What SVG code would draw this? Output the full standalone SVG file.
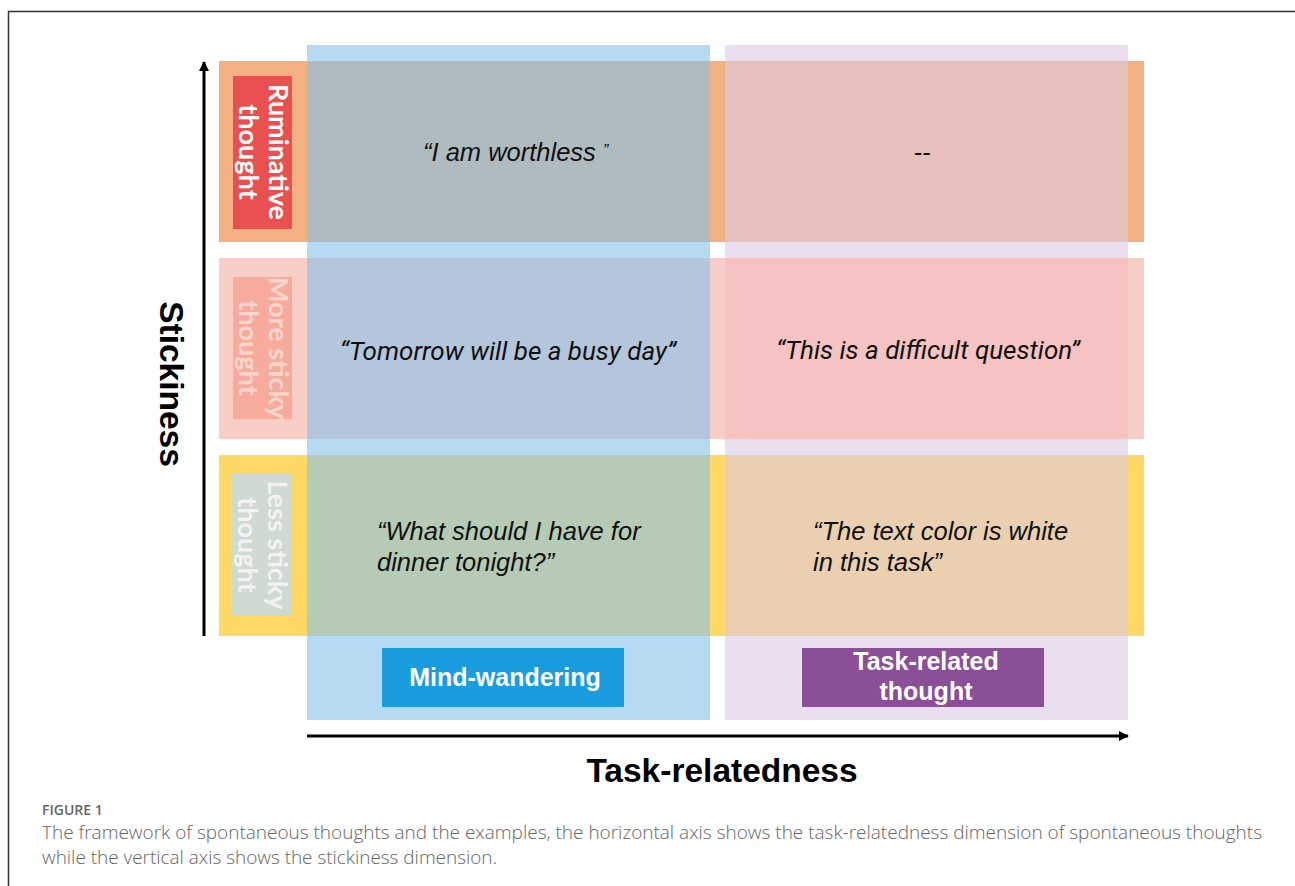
<svg xmlns="http://www.w3.org/2000/svg" width="1295" height="886" viewBox="0 0 1295 886">
  <defs>
    <style>
      .q { font-family: "Liberation Sans", Arial, sans-serif; font-style: italic; font-size: 25.5px; fill: #111; }
      .qr { font-family: Roboto, "Liberation Sans", sans-serif; font-style: italic; font-size: 26px; fill: #111; }
      .lab { font-family: Lato, "Liberation Sans", sans-serif; font-weight: bold; font-size: 27px; text-anchor: middle; }
      .axis { font-family: "Liberation Sans", Arial, sans-serif; font-weight: bold; font-size: 33.5px; fill: #000; text-anchor: middle; }
      .btn { font-family: "Liberation Sans", Arial, sans-serif; font-weight: bold; font-size: 25px; fill: #fff; text-anchor: middle; }
      .cap { font-family: "Open Sans", "Liberation Sans", sans-serif; fill: #666; }
    </style>
    <marker id="ah" viewBox="0 0 10 10" refX="9" refY="5" markerWidth="10" markerHeight="10" markerUnits="userSpaceOnUse" orient="auto">
      <path d="M0,0 L10,5 L0,10 z" fill="#000"/>
    </marker>
  </defs>

  <rect x="0" y="0" width="1295" height="886" fill="#fff"/>
  <rect x="8.5" y="11.5" width="1400" height="1000" fill="none" stroke="#333" stroke-width="1.5"/>

  <!-- row bands -->
  <g id="rows">
    <rect id="row-ruminative" x="219" y="61" width="925" height="181" fill="#F3B183"/>
    <rect id="row-more" x="219" y="258" width="925" height="181" fill="#F9CEC6"/>
    <rect id="row-less" x="219" y="455" width="925" height="181" fill="#FFD966"/>
  </g>

  <!-- column overlays -->
  <g id="columns">
    <rect id="col-mind" x="307" y="45" width="403" height="675" fill="#84C1E9" fill-opacity="0.6"/>
    <rect id="col-task" x="725" y="45" width="403" height="675" fill="#DCCAE3" fill-opacity="0.6"/>
    <rect id="cell-more-task" x="725" y="258" width="403" height="181" fill="#F4C3C2"/>
  </g>

  <!-- row labels -->
  <g id="label-ruminative">
    <rect x="233" y="76" width="59" height="153" fill="#E95050"/>
    <g transform="translate(262,152) rotate(90)">
      <text class="lab" x="0" y="-7" fill="#fff">Ruminative</text>
      <text class="lab" x="0" y="23" fill="#fff">thought</text>
    </g>
  </g>
  <g id="label-more">
    <rect x="233" y="277" width="59" height="142" fill="#F7AB9C"/>
    <g transform="translate(262,348) rotate(90)">
      <text class="lab" x="0" y="-7" fill="#FBD6CE">More sticky</text>
      <text class="lab" x="0" y="23" fill="#FBD6CE">thought</text>
    </g>
  </g>
  <g id="label-less">
    <rect x="232" y="474" width="59" height="142" fill="#CFDAD2"/>
    <g transform="translate(261,545) rotate(90)">
      <text class="lab" x="0" y="-7" fill="#F3F3F3">Less sticky</text>
      <text class="lab" x="0" y="23" fill="#F3F3F3">thought</text>
    </g>
  </g>

  <!-- cell texts -->
  <g id="cell-r1-mind"><text class="q" x="423" y="161" font-size="25">“I am worthless <tspan font-size="16" dy="-5">”</tspan></text></g>
  <g id="cell-r1-task"><text class="q" x="922" y="161" text-anchor="middle">--</text></g>
  <g id="cell-r2-mind"><text class="qr" x="508" y="360" text-anchor="middle">“Tomorrow will be a busy day”</text></g>
  <g id="cell-r2-task"><text class="qr" x="928" y="359" text-anchor="middle">“This is a difficult question”</text></g>
  <g id="cell-r3-mind"><text class="q" x="377" y="540">“What should I have for</text><text class="q" x="377" y="571">dinner tonight?”</text></g>
  <g id="cell-r3-task"><text class="q" x="813" y="540">“The text color is white</text><text class="q" x="813" y="571">in this task”</text></g>

  <!-- column labels -->
  <g id="mind-wandering">
    <rect x="382" y="648" width="242" height="59" fill="#1A9DDE"/>
    <text class="btn" x="505" y="686">Mind-wandering</text>
  </g>
  <g id="task-related">
    <rect x="802" y="648" width="242" height="59" fill="#8B4F98"/>
    <text class="btn" x="926" y="670">Task-related</text>
    <text class="btn" x="926" y="700">thought</text>
  </g>

  <!-- axes -->
  <g id="connectors" stroke="#000" stroke-width="3" fill="none">
    <line id="axis-y" x1="204" y1="636" x2="204" y2="62" marker-end="url(#ah)"/>
    <line id="axis-x" x1="307" y1="736" x2="1128" y2="736" marker-end="url(#ah)"/>
  </g>
  <g id="axis-labels">
    <text class="axis" transform="translate(172,384) rotate(90)" x="0" y="12">Stickiness</text>
    <text class="axis" x="722" y="782">Task-relatedness</text>
  </g>

  <!-- caption -->
  <g id="caption">
    <text class="cap" x="42" y="815" font-size="14" font-weight="600" fill="#555">FIGURE 1</text>
    <text class="cap" x="42" y="839" font-size="18" font-weight="300" textLength="1220" lengthAdjust="spacingAndGlyphs">The framework of spontaneous thoughts and the examples, the horizontal axis shows the task-relatedness dimension of spontaneous thoughts</text>
    <text class="cap" x="42" y="864" font-size="18" font-weight="300" textLength="455" lengthAdjust="spacingAndGlyphs">while the vertical axis shows the stickiness dimension.</text>
  </g>
</svg>
